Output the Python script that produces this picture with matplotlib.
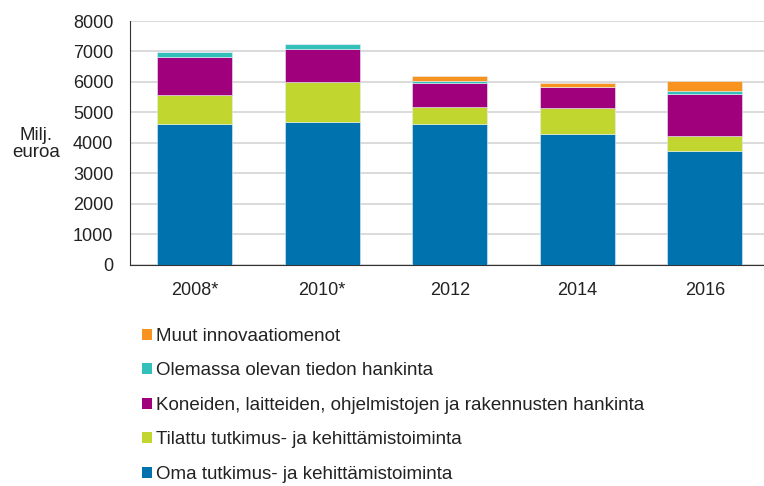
import numpy as np
import matplotlib.pyplot as plt
from matplotlib.patches import Patch

plt.rcParams['font.family'] = ['Liberation Sans', 'DejaVu Sans']

# ---- data (milj. euroa) ----
years = ["2008*", "2010*", "2012", "2014", "2016"]
oma_tk = [4618, 4671, 4603, 4285, 3718]
tilattu_tk = [941, 1316, 577, 843, 512]
koneet = [1273, 1098, 787, 688, 1377]
tieto = [160, 165, 56, 15, 98]
muut = [0, 0, 164, 136, 318]

series_labels = [
    "Oma tutkimus- ja kehittämistoiminta",
    "Tilattu tutkimus- ja kehittämistoiminta",
    "Koneiden, laitteiden, ohjelmistojen ja rakennusten hankinta",
    "Olemassa olevan tiedon hankinta",
    "Muut innovaatiomenot",
]
colors = ["#0072AE", "#C1D72F", "#A1007D", "#33BFBA", "#F7931E"]

fig = plt.figure(figsize=(7.64, 4.86), dpi=100)
ax = fig.add_axes([130 / 764, 1 - 264.5 / 486, 634 / 764, 243.5 / 486])

x = np.arange(len(years))
bottom = np.zeros(len(years))
handles = []
for vals, lab, col in zip([oma_tk, tilattu_tk, koneet, tieto, muut], series_labels, colors):
    ax.bar(x, vals, width=0.59, bottom=bottom, color=col,
           edgecolor="#e6eff5", linewidth=0.4, zorder=3)
    bottom += np.array(vals)
    handles.append(Patch(facecolor=col, edgecolor="none", label=lab))

ax.set_xlim(-0.508, 4.464)
ax.set_ylim(0, 8000)
ax.set_yticks(np.arange(0, 8001, 1000))
ax.set_xticks(x)
ax.set_xticklabels(years)
ax.tick_params(axis="y", length=0, pad=12, labelsize=13, colors="#222222")
ax.tick_params(axis="x", length=0, pad=12.5, labelsize=13, colors="#222222")
ax.grid(axis="y", color="#d4d4d4", linewidth=1.2, zorder=0)

for s in ["top", "right"]:
    ax.spines[s].set_visible(False)
ax.spines["left"].set_color("#333333")
ax.spines["bottom"].set_color("#333333")

fig.text(36 / 764, 1 - 144 / 486, "Milj.\neuroa", ha="center", va="center",
         fontsize=13.5, color="#222222", linespacing=1.0)

# legend in reverse order, top row = last series
fig.legend(handles=handles[::-1], loc="upper left",
           bbox_to_anchor=(142 / 764, 1 - 328 / 486), frameon=False,
           fontsize=13.5, handlelength=0.53, handleheight=0.53,
           handletextpad=0.21, labelspacing=0.93, borderpad=0, borderaxespad=0,
           labelcolor="#222222")

fig.savefig("out.png", dpi=100)
